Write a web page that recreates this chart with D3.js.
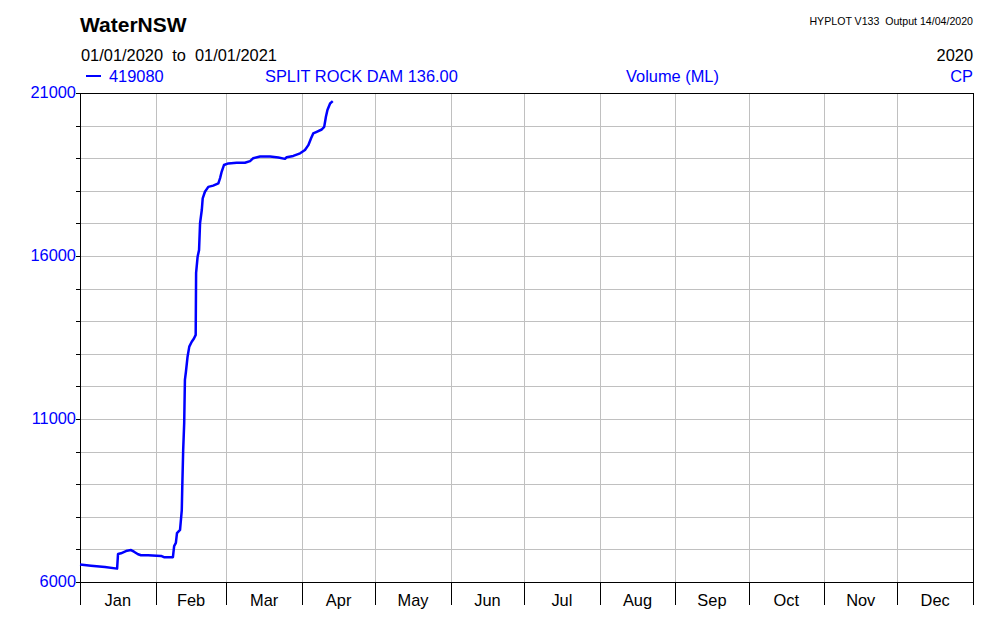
<!DOCTYPE html>
<html><head><meta charset="utf-8">
<script src="https://cdn.jsdelivr.net/npm/d3@7"></script>
<style>body{margin:0;background:#fff}svg{display:block;font-family:"Liberation Sans",Arial,sans-serif}</style>
</head><body>
<svg id="c" width="1000" height="625"></svg>
<script>
const monthLabels = ["Jan","Feb","Mar","Apr","May","Jun","Jul","Aug","Sep","Oct","Nov","Dec"];
const yTickLabels = [6000, 11000, 16000, 21000];
const dates = ["2020-01-01 00:00","2020-01-05 12:00","2020-01-11 05:00","2020-01-16 05:00","2020-01-16 14:00",
"2020-01-17 19:00","2020-01-20 07:00","2020-01-21 22:00","2020-01-23 03:00","2020-01-24 19:00","2020-01-26 00:00",
"2020-01-28 22:00","2020-02-03 05:00","2020-02-04 10:00","2020-02-08 02:00","2020-02-08 14:00","2020-02-09 07:00",
"2020-02-09 18:00","2020-02-11 00:00","2020-02-11 17:00","2020-02-11 22:00","2020-02-12 07:00","2020-02-12 17:00",
"2020-02-13 00:00","2020-02-13 10:00","2020-02-14 02:00","2020-02-14 19:00","2020-02-15 19:00","2020-02-16 17:00",
"2020-02-17 10:00","2020-02-17 14:00","2020-02-18 05:00","2020-02-18 19:00","2020-02-19 05:00","2020-02-19 22:00",
"2020-02-20 07:00","2020-02-21 05:00","2020-02-22 14:00","2020-02-24 14:00","2020-02-26 17:00","2020-02-27 10:00",
"2020-02-28 02:00","2020-02-29 00:00","2020-03-01 19:00","2020-03-05 05:00","2020-03-08 14:00","2020-03-10 17:00",
"2020-03-12 00:00","2020-03-14 19:00","2020-03-18 22:00","2020-03-22 07:00","2020-03-25 00:00","2020-03-25 17:00",
"2020-03-28 10:00","2020-03-31 05:00","2020-04-02 05:00","2020-04-03 14:00","2020-04-04 17:00","2020-04-05 14:00",
"2020-04-07 00:00","2020-04-09 02:00","2020-04-10 02:00","2020-04-10 19:00","2020-04-11 10:00","2020-04-12 12:00",
"2020-04-13 14:00"];
const volumes = [6537,6500,6460,6410,6860,
6880,6960,6980,6930,6850,6820,
6820,6800,6760,6760,7100,7200,
7500,7600,8200,8910,10050,10880,
12200,12450,12910,13220,13370,13470,
13580,15480,15980,16180,17010,17410,
17770,17970,18120,18160,18230,18390,
18590,18790,18840,18860,18860,18910,
19000,19050,19050,19020,18980,19030,
19070,19150,19250,19400,19610,19760,
19810,19880,19960,20270,20480,20680,
20750];

const parse = d3.timeParse("%Y-%m-%d %H:%M");
const data = dates.map((d,i)=>({t:parse(d), v:volumes[i]}));
const svg = d3.select("#c");
const L=80,R=973,T=93,B=582;
const FS=16.4;
const x = d3.scaleTime().domain([new Date(2020,0,1), new Date(2021,0,1)]).range([L,R]);
const y = d3.scaleLinear().domain([6000,21000]).range([B,T]);
const months = d3.timeMonth.range(new Date(2020,0,1), new Date(2021,0,1));
const grid = svg.append("g");
grid.selectAll("line.h").data(d3.range(7000,21000,1000)).join("line")
  .attr("x1",L).attr("x2",R).attr("y1",d=>Math.round(y(d))+0.5).attr("y2",d=>Math.round(y(d))+0.5)
  .attr("stroke","#c0c0c0").attr("stroke-width",1);
grid.selectAll("line.v").data(months.slice(1)).join("line")
  .attr("x1",d=>Math.round(x(d))+0.5).attr("x2",d=>Math.round(x(d))+0.5).attr("y1",T).attr("y2",B)
  .attr("stroke","#c0c0c0").attr("stroke-width",1);
svg.append("rect").attr("x",L+0.5).attr("y",T+0.5).attr("width",R-L).attr("height",B-T)
  .attr("fill","none").attr("stroke","#000").attr("stroke-width",1);
const yAxis = svg.append("g");
yAxis.selectAll("line").data(d3.range(6000,21001,1000)).join("line")
  .attr("x1",L-4).attr("x2",L).attr("y1",d=>Math.round(y(d))+0.5).attr("y2",d=>Math.round(y(d))+0.5)
  .attr("stroke","#000");
yAxis.selectAll("text").data(yTickLabels).join("text")
  .attr("x",L-4).attr("y",d=>y(d)+5).attr("text-anchor","end").attr("font-size",FS).attr("fill","#0000ff")
  .text(d=>d);
const xAxis = svg.append("g");
xAxis.selectAll("line").data(months.concat([new Date(2021,0,1)])).join("line")
  .attr("x1",d=>Math.round(x(d))+0.5).attr("x2",d=>Math.round(x(d))+0.5).attr("y1",B).attr("y2",605)
  .attr("stroke","#000");
xAxis.selectAll("text").data(months).join("text")
  .attr("x",(d,i)=>(x(d)+x(d3.timeMonth.offset(d,1)))/2).attr("y",606).attr("text-anchor","middle")
  .attr("font-size",FS).attr("fill","#000").text((d,i)=>monthLabels[i]);
svg.append("path").datum(data).attr("fill","none").attr("stroke","#0000ff").attr("stroke-width",2.5)
  .attr("stroke-linejoin","round")
  .attr("d", d3.line().x(d=>x(d.t)).y(d=>y(d.v)));
svg.append("text").attr("x",80).attr("y",32).attr("font-size",21).attr("font-weight","bold").text("WaterNSW");
svg.append("text").attr("x",81).attr("y",61).attr("font-size",FS).attr("xml:space","preserve").text("01/01/2020  to  01/01/2021");
svg.append("text").attr("x",973).attr("y",25).attr("font-size",10.6).attr("text-anchor","end").attr("xml:space","preserve").text("HYPLOT V133  Output 14/04/2020");
svg.append("text").attr("x",973).attr("y",61).attr("font-size",FS).attr("text-anchor","end").text("2020");
svg.append("line").attr("x1",86).attr("x2",101).attr("y1",76).attr("y2",76).attr("stroke","#0000ff").attr("stroke-width",2);
svg.append("text").attr("x",109).attr("y",82).attr("font-size",FS).attr("fill","#0000ff").text("419080");
svg.append("text").attr("x",265).attr("y",82).attr("font-size",FS).attr("fill","#0000ff").text("SPLIT ROCK DAM 136.00");
svg.append("text").attr("x",626).attr("y",82).attr("font-size",FS).attr("fill","#0000ff").text("Volume (ML)");
svg.append("text").attr("x",973).attr("y",82).attr("font-size",FS).attr("text-anchor","end").attr("fill","#0000ff").text("CP");
</script>
</body></html>
